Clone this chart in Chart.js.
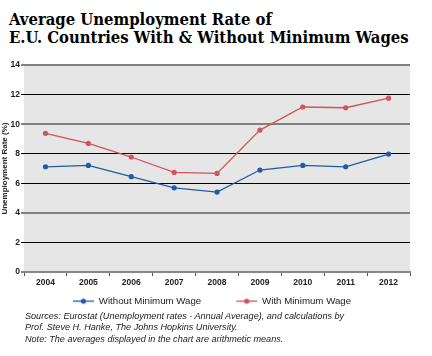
<!DOCTYPE html>
<html>
<head>
<meta charset="utf-8">
<script src="https://cdn.jsdelivr.net/npm/chart.js@4"></script>
<style>
  html, body { margin:0; padding:0; background:#fff; }
  #wrap { position:relative; width:432px; height:356px; overflow:hidden; }
  #title { position:absolute; left:9px; top:11px; font-family:"DejaVu Serif Condensed","DejaVu Serif",serif; font-weight:bold; font-size:16.5px; line-height:18px; color:#000; white-space:nowrap; }
  #notes { position:absolute; left:25px; top:311px; font-family:"Liberation Sans",Arial,sans-serif; font-style:italic; font-size:9.1px; line-height:11.3px; color:#222; white-space:nowrap; }
  canvas { position:absolute; left:0; top:0; }
</style>
</head>
<body>
<div id="wrap">
  <div id="title">Average Unemployment Rate of<br>E.U. Countries With &amp; Without Minimum Wages</div>
  <canvas id="c" width="432" height="330"></canvas>
  <div id="notes">Sources: Eurostat (Unemployment rates - Annual Average), and calculations by<br>Prof. Steve H. Hanke, The Johns Hopkins University.<br>Note: The averages displayed in the chart are arithmetic means.</div>
</div>
<script>
const years = ['2004','2005','2006','2007','2008','2009','2010','2011','2012'];
const withoutMinWage = [7.12, 7.21, 6.45, 5.70, 5.41, 6.90, 7.21, 7.12, 7.98];
const withMinWage = [9.38, 8.70, 7.78, 6.74, 6.67, 9.60, 11.16, 11.11, 11.76];
const yTicks = [0, 2, 4, 6, 8, 10, 12, 14];

const BLUE = '#1f5ba6';
const RED = '#d0545c';

const MARK_W = 48, LINE_W = 21;
function legendMark(color) {
  const c = document.createElement('canvas');
  c.width = MARK_W; c.height = 8;
  const x = c.getContext('2d');
  x.strokeStyle = color; x.lineWidth = 1.3;
  x.beginPath(); x.moveTo(MARK_W - LINE_W, 4); x.lineTo(MARK_W, 4); x.stroke();
  x.fillStyle = color;
  x.beginPath(); x.arc(MARK_W - LINE_W / 2, 4, 2.6, 0, Math.PI * 2); x.fill();
  return c;
}
const marks = [legendMark(BLUE), legendMark(RED)];

const bgPlugin = {
  id: 'plotBg',
  beforeDraw(chart) {
    const a = chart.chartArea, ctx = chart.ctx;
    ctx.save();
    ctx.fillStyle = '#e6e6e6';
    ctx.fillRect(a.left, a.top, a.right - a.left, a.bottom - a.top);
    ctx.restore();
  }
};

const legendShift = {
  id: 'legendShift',
  afterLayout(chart) {
    const l = chart.legend;
    if (l) { l.left -= 6.5; l.right -= 6.5; }
  }
};

const heavy = v => v === 14 || v === 10 || v === 4 || v === 0;

new Chart(document.getElementById('c'), {
  type: 'line',
  data: {
    labels: years,
    datasets: [
      { label: 'Without Minimum Wage', data: withoutMinWage, borderColor: BLUE, backgroundColor: BLUE,
        borderWidth: 1.3, pointRadius: 2.6, pointBackgroundColor: BLUE, pointBorderWidth: 0, tension: 0 },
      { label: 'With Minimum Wage', data: withMinWage, borderColor: RED, backgroundColor: RED,
        borderWidth: 1.3, pointRadius: 2.6, pointBackgroundColor: RED, pointBorderWidth: 0, tension: 0 }
    ]
  },
  options: {
    responsive: false,
    animation: false,
    devicePixelRatio: 1,
    layout: { padding: { top: 65, right: 22, left: 0, bottom: 14 } },
    scales: {
      x: {
        type: 'category',
        offset: true,
        grid: { offset: true, drawOnChartArea: false, drawTicks: true, tickLength: 4, color: '#555', lineWidth: 1 },
        border: { display: true, color: '#888', width: 2 },
        ticks: { color: '#222', font: { family: 'Liberation Sans', size: 8.5, weight: 'bold' }, padding: 1, maxRotation: 0 }
      },
      y: {
        min: 0, max: 14,
        afterBuildTicks(scale) { scale.ticks = yTicks.map(v => ({ value: v })); },
        grid: {
          color: ctx => heavy(ctx.tick.value) ? '#808080' : '#000',
          lineWidth: ctx => heavy(ctx.tick.value) ? 2 : 1,
          tickLength: 3
        },
        border: { display: false },
        ticks: { color: '#222', font: { family: 'Liberation Sans', size: 8.5, weight: 'bold' }, padding: 1 },
        title: { display: true, text: 'Unemployment Rate (%)', color: '#222', font: { family: 'Liberation Sans', size: 8, weight: 'bold' }, padding: 0 }
      }
    },
    plugins: {
      legend: {
        position: 'bottom',
        labels: {
          usePointStyle: true,
          pointStyleWidth: MARK_W,
          boxHeight: 8,
          padding: 8,
          color: '#222',
          font: { family: 'Liberation Sans', size: 9.7 },
          generateLabels(chart) {
            const items = Chart.defaults.plugins.legend.labels.generateLabels(chart);
            items.forEach((it, i) => { it.pointStyle = marks[i]; });
            return items;
          }
        }
      },
      tooltip: { enabled: false }
    }
  },
  plugins: [bgPlugin, legendShift]
});
</script>
</body>
</html>
